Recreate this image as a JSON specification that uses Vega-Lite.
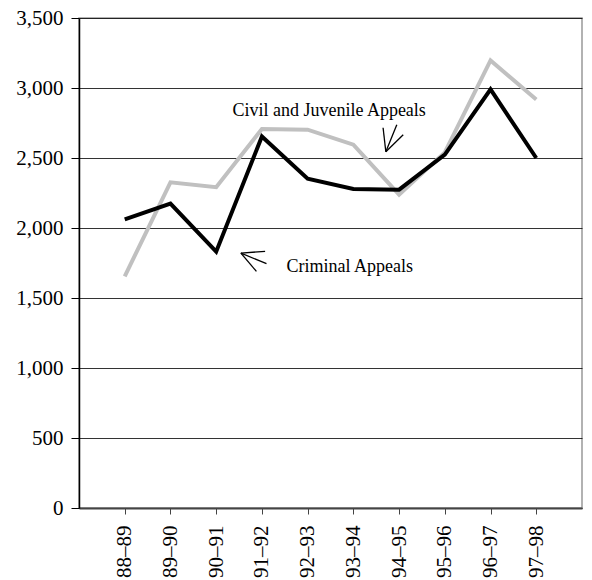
{
  "$schema": "https://vega.github.io/schema/vega-lite/v6.json",
  "width": 503,
  "height": 490,
  "autosize": "none",
  "padding": {"left": 79, "top": 18, "right": 10, "bottom": 72},
  "background": "white",
  "config": {
    "font": "Liberation Serif",
    "axis": {"labelFont": "Liberation Serif", "titleFont": "Liberation Serif"},
    "text": {"font": "Liberation Serif"},
    "view": {"stroke": "#999", "strokeWidth": 1.5}
  },
  "datasets": {
    "series": [
      {"period": "88–89", "series": "Civil and Juvenile Appeals", "value": 1655},
      {"period": "89–90", "series": "Civil and Juvenile Appeals", "value": 2326},
      {"period": "90–91", "series": "Civil and Juvenile Appeals", "value": 2292},
      {"period": "91–92", "series": "Civil and Juvenile Appeals", "value": 2707},
      {"period": "92–93", "series": "Civil and Juvenile Appeals", "value": 2702},
      {"period": "93–94", "series": "Civil and Juvenile Appeals", "value": 2595},
      {"period": "94–95", "series": "Civil and Juvenile Appeals", "value": 2238},
      {"period": "95–96", "series": "Civil and Juvenile Appeals", "value": 2540},
      {"period": "96–97", "series": "Civil and Juvenile Appeals", "value": 3197},
      {"period": "97–98", "series": "Civil and Juvenile Appeals", "value": 2918},
      {"period": "88–89", "series": "Criminal Appeals", "value": 2062},
      {"period": "89–90", "series": "Criminal Appeals", "value": 2174},
      {"period": "90–91", "series": "Criminal Appeals", "value": 1831},
      {"period": "91–92", "series": "Criminal Appeals", "value": 2654},
      {"period": "92–93", "series": "Criminal Appeals", "value": 2352},
      {"period": "93–94", "series": "Criminal Appeals", "value": 2279},
      {"period": "94–95", "series": "Criminal Appeals", "value": 2274},
      {"period": "95–96", "series": "Criminal Appeals", "value": 2524},
      {"period": "96–97", "series": "Criminal Appeals", "value": 2990},
      {"period": "97–98", "series": "Criminal Appeals", "value": 2500}
    ],
    "arrows": [
      {"x": 6.71, "y": 2545, "x2": 6.95, "y2": 2738},
      {"x": 6.71, "y": 2545, "x2": 6.65, "y2": 2716},
      {"x": 6.71, "y": 2545, "x2": 7.09, "y2": 2666},
      {"x": 3.54, "y": 1821, "x2": 4.07, "y2": 1833},
      {"x": 3.54, "y": 1821, "x2": 4.10, "y2": 1745},
      {"x": 3.54, "y": 1821, "x2": 3.88, "y2": 1690}
    ],
    "labels": [
      {"x": 5.47, "y": 2835, "text": "Civil and Juvenile Appeals"},
      {"x": 5.92, "y": 1725, "text": "Criminal Appeals"}
    ]
  },
  "layer": [
    {
      "data": {"name": "series"},
      "mark": {"type": "line", "strokeWidth": 4, "strokeJoin": "miter"},
      "encoding": {
        "x": {
          "field": "period", "type": "ordinal", "sort": null,
          "scale": {"type": "point", "padding": 1},
          "axis": {
            "title": null, "labelAngle": -90, "labelAlign": "right", "labelBaseline": "middle",
            "labelFontSize": 21, "labelColor": "black", "labelPadding": 11,
            "domainColor": "#444", "domainWidth": 2, "tickColor": "#444", "tickSize": 6, "grid": false
          }
        },
        "y": {
          "field": "value", "type": "quantitative",
          "scale": {"domain": [0, 3500], "nice": false},
          "axis": {
            "title": null, "values": [0, 500, 1000, 1500, 2000, 2500, 3000, 3500], "format": ",d",
            "labelFontSize": 21, "labelColor": "black", "labelPadding": 8,
            "domainColor": "black", "domainWidth": 1.5, "tickColor": "black", "tickSize": 8,
            "grid": true, "gridColor": "black", "gridWidth": 1, "gridOpacity": 0.8
          }
        },
        "color": {
          "field": "series", "type": "nominal",
          "scale": {"domain": ["Civil and Juvenile Appeals", "Criminal Appeals"], "range": ["#c0c0c0", "#000000"]},
          "legend": null
        }
      }
    },
    {
      "data": {"name": "arrows"},
      "mark": {"type": "rule", "color": "black", "strokeWidth": 1.3},
      "encoding": {
        "x": {"field": "x", "type": "quantitative", "scale": {"domain": [0, 11], "nice": false}, "axis": null},
        "x2": {"field": "x2"},
        "y": {"field": "y", "type": "quantitative"},
        "y2": {"field": "y2"}
      }
    },
    {
      "data": {"name": "labels"},
      "mark": {"type": "text", "font": "Liberation Serif", "fontSize": 18, "color": "black", "align": "center", "baseline": "middle"},
      "encoding": {
        "x": {"field": "x", "type": "quantitative", "scale": {"domain": [0, 11], "nice": false}, "axis": null},
        "y": {"field": "y", "type": "quantitative"},
        "text": {"field": "text"}
      }
    }
  ],
  "resolve": {"scale": {"x": "independent"}, "axis": {"x": "independent"}}
}
